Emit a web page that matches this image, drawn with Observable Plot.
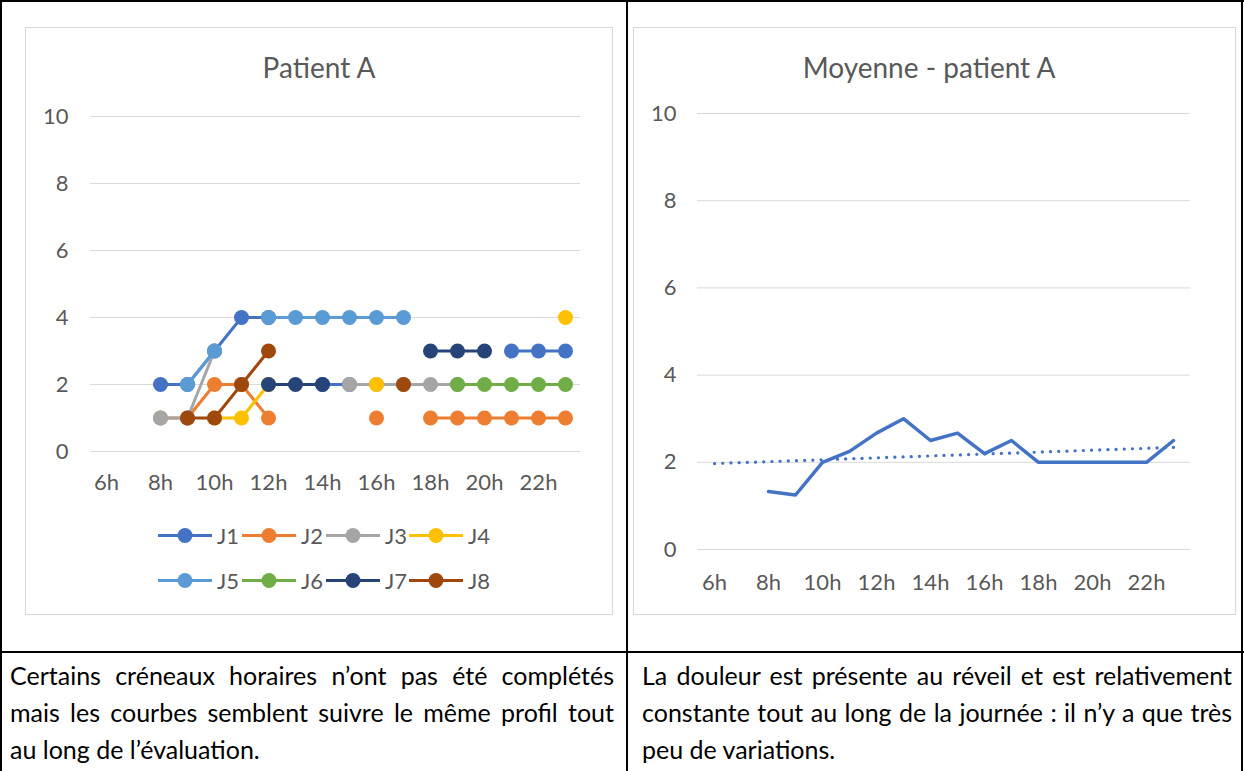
<!DOCTYPE html>
<html><head><meta charset="utf-8">
<script src="https://cdn.jsdelivr.net/npm/d3@7"></script>
<script src="https://cdn.jsdelivr.net/npm/@observablehq/plot@0.6"></script>
<style>
html,body{margin:0;padding:0;background:#fff;}
body{width:1244px;height:771px;overflow:hidden;position:relative;font-family:Lato,"Open Sans",sans-serif;}
.frame{position:absolute;border:1px solid #d9d9d9;box-sizing:border-box;background:#fff;}
.title{position:absolute;color:#595959;font-size:28px;white-space:nowrap;transform:translate(-50%,-50%);}
.bar{position:absolute;background:#000;}
.txt{position:absolute;font-size:25px;line-height:37px;color:#000;}
.txt div{text-align:justify;text-align-last:justify;}
.txt div.last{text-align-last:left;}
.leg{position:absolute;display:flex;align-items:center;font-size:22px;color:#595959;transform:translateY(-50%);}
.chart{position:absolute;}
</style>
</head><body>
<div class="frame" style="left:25px;top:27px;width:588px;height:588px;"></div>
<div class="frame" style="left:633px;top:27px;width:603px;height:588px;"></div>
<div class="title" style="left:319px;top:67px;">Patient A</div>
<div class="title" style="left:929px;top:67px;">Moyenne - patient A</div>
<div id="left" class="chart" style="left:25px;top:27px;"></div>
<div id="right" class="chart" style="left:633px;top:27px;"></div>
<div id="legend"></div>

<div class="bar" style="left:0;top:0;width:1244px;height:2px;"></div>
<div class="bar" style="left:0;top:0;width:2px;height:771px;"></div>
<div class="bar" style="left:626px;top:0;width:2px;height:771px;"></div>
<div class="bar" style="left:1241px;top:0;width:2px;height:771px;"></div>
<div class="bar" style="left:0;top:651px;width:1244px;height:2px;"></div>

<div class="txt" style="left:10px;top:657px;width:604px;">
<div>Certains créneaux horaires n’ont pas été complétés</div>
<div>mais les courbes semblent suivre le même profil tout</div>
<div class="last">au long de l’évaluation.</div>
</div>
<div class="txt" style="left:642px;top:657px;width:590px;">
<div>La douleur est présente au réveil et est relativement</div>
<div>constante tout au long de la journée : il n’y a que très</div>
<div class="last">peu de variations.</div>
</div>

<script>
// ---- data ----
const hours = ["6h","7h","8h","9h","10h","11h","12h","13h","14h","15h","16h","17h","18h","19h","20h","21h","22h","23h"];
const xTickLabels = ["6h","8h","10h","12h","14h","16h","18h","20h","22h"];
const yTicks = [0,2,4,6,8,10];
const seriesNames = ["J1","J2","J3","J4","J5","J6","J7","J8"];
const seriesColors = ["#4472C4","#ED7D31","#A5A5A5","#FFC000","#5B9BD5","#70AD47","#264478","#9E480E"];
//          6h   7h   8h 9h 10h 11h 12h  13h  14h 15h  16h  17h  18h  19h  20h  21h  22h  23h
const J1 = [null,null,2, 2, 3,  4,  4,  null,2,  2,   null,null,null,null,null,3,   3,   3];
const J2 = [null,null,1, 1, 2,  2,  1,  null,null,null,1,  null,1,   1,   1,   1,   1,   1];
const J3 = [null,null,1, 1, 3,  null,null,null,null,2, 2,   2,   2,   2,   null,null,null,null];
const J4 = [null,null,null,null,1,1, 2,  null,null,null,2,  null,null,null,null,null,null,4];
const J5 = [null,null,null,2,3, null,4,  4,   4,  4,   4,   4,   null,null,null,null,null,null];
const J6 = [null,null,null,null,null,null,null,null,null,null,null,null,null,2,2, 2,   2,   2];
const J7 = [null,null,null,null,null,null,2,2,   2,  null,null,null,3,   3,   3,   null,null,null];
const J8 = [null,null,null,1, 1,  2,  3,  null,null,null,null,2,  null,null,null,null,null,null];
const seriesValues = [J1,J2,J3,J4,J5,J6,J7,J8];
const moyenne = [null,null,1.33,1.25,2,2.25,2.67,3,2.5,2.67,2.2,2.5,2,2,2,2,2,2.5];

// ---- left chart ----
const leftMarks = [
  Plot.gridY(yTicks, {stroke:"#d9d9d9", strokeOpacity:1, strokeWidth:1}),
  Plot.axisY(yTicks, {tickSize:0, tickPadding:22, fontSize:22, tickFormat:d=>d, label:null}),
  Plot.axisX(xTickLabels, {tickSize:0, tickPadding:23, fontSize:22, label:null})
];
seriesValues.forEach((vals,i)=>{
  const rows = hours.map((h,j)=>({h, v: vals[j]}));
  leftMarks.push(Plot.line(rows, {x:"h", y:"v", stroke:seriesColors[i], strokeWidth:3}));
  leftMarks.push(Plot.dot(rows.filter(r=>r.v!=null), {x:"h", y:"v", r:7.5, fill:seriesColors[i], stroke:null}));
});
const left = Plot.plot({
  width:588, height:490,
  marginLeft:65, marginRight:33, marginTop:89, marginBottom:66,
  style:{background:"transparent", color:"#595959", fontFamily:"Lato, sans-serif", overflow:"visible"},
  x:{type:"point", domain:hours, padding:0.5, axis:null, label:null},
  y:{domain:[0,10], axis:null, label:null},
  marks:leftMarks
});
document.getElementById("left").appendChild(left);

// ---- legend ----
const legendCols = [158,242,326,409];
const legendRows = [535,580];
const legendEl = document.getElementById("legend");
seriesNames.forEach((name,i)=>{
  const d = document.createElement("div");
  d.className = "leg";
  d.style.left = legendCols[i%4] + "px";
  d.style.top = legendRows[Math.floor(i/4)] + "px";
  d.innerHTML = `<svg width="54" height="16" style="margin-right:5px"><line x1="0" y1="8" x2="54" y2="8" stroke="${seriesColors[i]}" stroke-width="3"/><circle cx="27" cy="8" r="7.5" fill="${seriesColors[i]}"/></svg><span>${name}</span>`;
  legendEl.appendChild(d);
});

// ---- right chart ----
const avgRows = hours.map((h,j)=>({h, v: moyenne[j]}));
// linear trendline (least squares over category index), drawn across the whole axis like Excel
const pts = moyenne.map((v,j)=>[j,v]).filter(p=>p[1]!=null);
const mx = d3.mean(pts,p=>p[0]), my = d3.mean(pts,p=>p[1]);
const slope = d3.sum(pts,p=>(p[0]-mx)*(p[1]-my)) / d3.sum(pts,p=>(p[0]-mx)**2);
const icpt = my - slope*mx;
const trendRows = [0, hours.length-1].map(j=>({h:hours[j], v: icpt + slope*j}));

const right = Plot.plot({
  width:603, height:580,
  marginLeft:64, marginRight:46, marginTop:86, marginBottom:58,
  style:{background:"transparent", color:"#595959", fontFamily:"Lato, sans-serif", overflow:"visible"},
  x:{type:"point", domain:hours, padding:0.5, axis:null, label:null},
  y:{domain:[0,10], axis:null, label:null},
  marks:[
    Plot.gridY(yTicks, {stroke:"#d9d9d9", strokeOpacity:1, strokeWidth:1}),
    Plot.axisY(yTicks, {tickSize:0, tickPadding:21, fontSize:22, tickFormat:d=>d, label:null}),
    Plot.axisX(xTickLabels, {tickSize:0, tickPadding:25, fontSize:22, label:null}),
    Plot.line(avgRows, {x:"h", y:"v", stroke:"#4472C4", strokeWidth:3.5}),
    Plot.line(trendRows, {x:"h", y:"v", stroke:"#4472C4", strokeWidth:3.2, strokeDasharray:"0.1 8.1", strokeLinecap:"round"})
  ]
});
document.getElementById("right").appendChild(right);
</script>
</body></html>
